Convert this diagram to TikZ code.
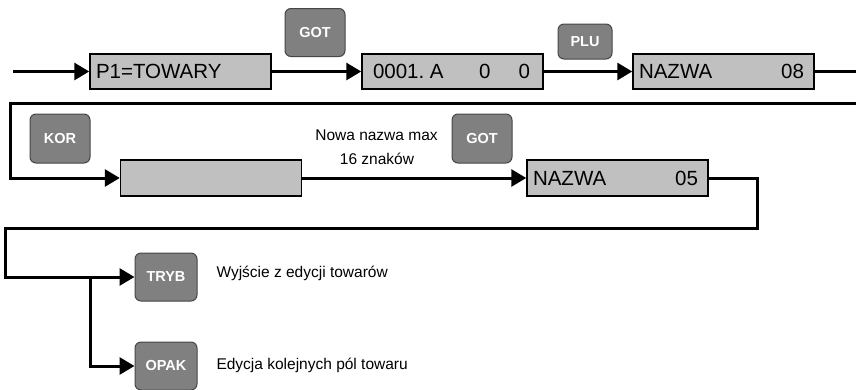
\documentclass[tikz,border=0pt]{standalone}
\usepackage{fontspec}
\setmainfont{Liberation Sans}
\usetikzlibrary{arrows.meta,calc,positioning}

\definecolor{lcdgray}{RGB}{192,192,192}
\definecolor{keygray}{RGB}{128,128,128}
\definecolor{keyedge}{RGB}{70,70,70}

% display line: left text, right text
\newcommand{\lcdrow}[2]{\makebox[181pt][l]{\hspace{6pt}#1\hfill#2\hspace{10pt}}}

\tikzset{
  lcd/.style={draw, line width=1.5pt, fill=lcdgray, minimum width=181pt,
    minimum height=35pt, inner sep=0pt, font=\fontsize{20.5}{24}\selectfont},
  key/.style={draw=keyedge, line width=1pt, fill=keygray, rounded corners=6pt,
    minimum width=60pt, minimum height=48pt, inner sep=0pt, text=white,
    font=\fontsize{14.5}{17}\selectfont\bfseries},
  note/.style={font=\fontsize{15.5}{18}\selectfont},
  wire/.style={line width=3pt},
  feed/.style={wire, -{Triangle[length=15pt,width=17pt]}},
}

\begin{document}
\begin{tikzpicture}[x=1pt,y=-1pt]
            \useasboundingbox (0,0) rectangle (856,389);

            % First row of displays
            \coordinate (start) at (13,71.5);
            \node[lcd] (p1) at (180.5,71.5) {\lcdrow{P1=TOWARY}{}};
            \node[lcd] (num) at (452.5,71.5) {\lcdrow{\hspace{5pt}0001.\ A}{0\hspace{28pt}0\hspace{3pt}}};
            \node[lcd] (naz1) at (723.5,71.5) {\lcdrow{NAZWA}{08}};
            \node[key] (got1) at (315,32.5) {GOT};
            \node[key, minimum width=54pt, minimum height=35pt] (plu) at (585,41.5) {PLU};

            % Second row
            \node[key, minimum height=49pt] (kor) at (60,138.5) {KOR};
            \node[lcd, minimum height=36pt] (empty) at (211,178) {\lcdrow{}{}};
            \node[note] (max) at (376.5,135) {Nowa nazwa max};
            \node[note] (chars) at (377,159) {16 znaków};
            \node[key, minimum height=49pt] (got2) at (482,138.5) {GOT};
            \node[lcd, minimum height=36pt] (naz2) at (617.5,178) {\lcdrow{NAZWA}{05}};

            % Exit keys
            \node[key, minimum width=62pt] (tryb) at (166,277) {TRYB};
            \node[key, minimum width=62pt] (opak) at (166,366) {OPAK};
            \node[note, anchor=west] (exit) at (213,273) {Wyjście z edycji towarów};
            \node[note, anchor=west] (next) at (213,365) {Edycja kolejnych pól towaru};
            \coordinate (split) at (90,277);

            % Connections
            \draw[feed] (start) -- (p1);
            \draw[feed] (p1) -- (num);
            \draw[feed] (num) -- (naz1);
            \draw[feed] (naz1.east) -- (861,71.5) -- (861,103) -- (10,103) |- (empty.west);
            \draw[feed] (empty) -- (naz2);
            \draw[feed] (naz2.east) -- (757,178) -- (757,228) -- (5,228) |- (tryb.west);
            \draw[feed] (split) |- (opak.west);

        \end{tikzpicture}
\end{document}
